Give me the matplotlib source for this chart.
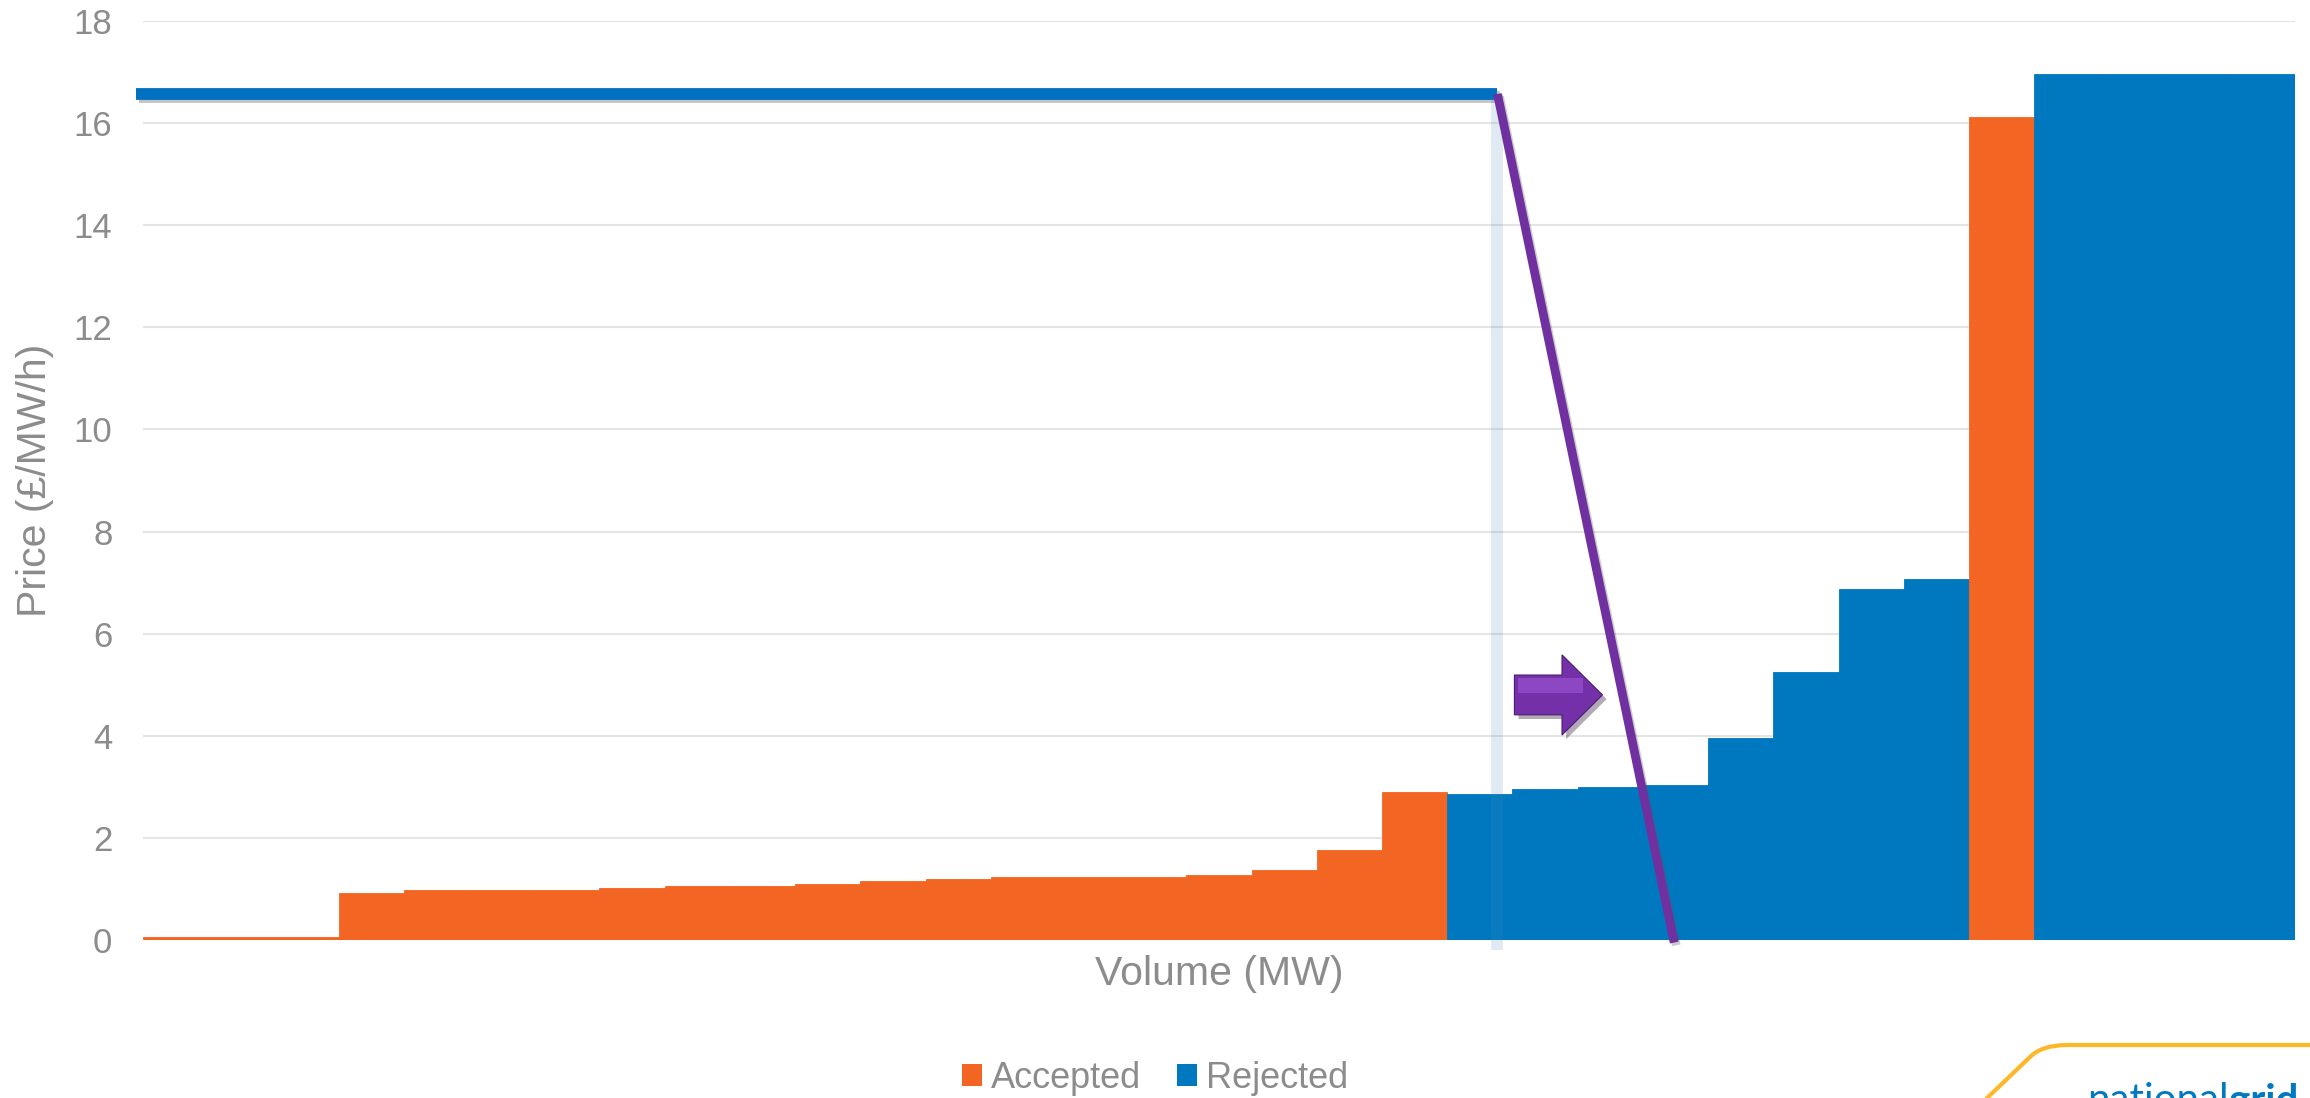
import numpy as np
import matplotlib
matplotlib.use('Agg')
import matplotlib.pyplot as plt
import matplotlib.patheffects as pe
from matplotlib.patches import Patch, FancyArrow, PathPatch
from matplotlib.path import Path

# bid stack: one equal-sized block per bid, price in £/MW/h
prices = [0.05, 0.05, 0.05, 0.93, 0.985, 0.985, 0.985, 1.02, 1.06, 1.06,
          1.09, 1.15, 1.19, 1.23, 1.23, 1.23, 1.27, 1.37, 1.76, 2.89,
          2.86, 2.96, 3.0, 3.04, 3.96, 5.24, 6.87, 7.08,
          16.11,
          16.96, 16.96, 16.96, 16.96]
accepted = [True] * 20 + [False] * 8 + [True] + [False] * 4

# demand curve: flat price, then falls to zero
demand_price = 16.57
demand_start = -0.1
demand_kink = 20.77
demand_zero = 23.48

orange = '#F26522'
blue = '#0078C0'
grey = '#8C8C8C'

plt.rcParams['font.family'] = ['Liberation Sans', 'DejaVu Sans']

W, H = 2310, 1098
fig = plt.figure(figsize=(W / 100, H / 100), dpi=100)
ax = fig.add_axes([143 / W, 1 - 940 / H, (2295 - 143) / W, (940 - 21) / H])

x = np.arange(len(prices))
cols = [orange if a else blue for a in accepted]
ax.bar(x, prices, width=1.0, align='edge', color=cols, edgecolor=cols,
       linewidth=0.6, zorder=2)

# cleared volume marker
ax.plot([demand_kink, demand_kink], [demand_price, -0.2], color='#4A88B8',
        alpha=0.17, lw=8.5, solid_capstyle='butt', zorder=3, clip_on=False)

# demand line
ax.plot([demand_start, demand_kink], [demand_price, demand_price], color='#0070C0',
        lw=8.5, solid_capstyle='butt', zorder=4, clip_on=False,
        path_effects=[pe.SimpleLineShadow(offset=(1.5, -2.5), shadow_color='#555555', alpha=0.35),
                      pe.Normal()])
ax.plot([demand_kink, demand_zero], [demand_price, -0.05], color='#7030A0',
        lw=6.3, solid_capstyle='butt', zorder=5, clip_on=False,
        path_effects=[pe.SimpleLineShadow(offset=(1.5, -2), shadow_color='#555555', alpha=0.3),
                      pe.Normal()])

# arrow showing the shift
arr = FancyArrow(21.03, 4.8, 1.35, 0, width=0.78, head_width=1.57, head_length=0.62,
                 length_includes_head=True, facecolor='#7330A8', edgecolor='#4A1B6E',
                 linewidth=0.8, zorder=6,
                 path_effects=[pe.SimplePatchShadow(offset=(3, -3), alpha=0.35), pe.Normal()])
ax.add_patch(arr)
ax.add_patch(FancyArrow(21.08, 4.98, 1.0, 0, width=0.3, head_width=0.0, head_length=0.0,
                        facecolor='#A35BD8', edgecolor='none', alpha=0.55, zorder=7))

ax.set_xlim(0, len(prices))
ax.set_ylim(0, 18)
ax.set_yticks(np.arange(0, 19, 2))
ax.set_xticks([])
ax.yaxis.grid(True, color='#E4E4E4', lw=1.5)
ax.set_axisbelow(True)
for s in ax.spines.values():
    s.set_visible(False)
ax.tick_params(axis='y', length=0, pad=22, labelsize=25, labelcolor=grey)

ax.set_ylabel('Price (£/MW/h)', fontsize=29.5, color=grey)
ax.yaxis.set_label_coords((35 - 143) / 2152, 0.5)
ax.yaxis.label.set_va('center')
ax.set_xlabel('Volume (MW)', fontsize=29.5, color=grey)
ax.xaxis.set_label_coords(0.5, -(974 - 940) / 919)
ax.xaxis.label.set_va('center')

handles = [Patch(facecolor=orange), Patch(facecolor=blue)]
fig.legend(handles, ['Accepted', 'Rejected'], loc='center',
           bbox_to_anchor=(0.5, 1 - 1078 / H), ncol=2, frameon=False,
           fontsize=26, handlelength=0.55, handleheight=0.55,
           handletextpad=0.25, columnspacing=1.0, labelcolor=grey,
           borderaxespad=0, borderpad=0)

# logo in the corner
verts = [(1985, 1100), (2030, 1057), (2042, 1045), (2067, 1045), (2310, 1045)]
verts = [(vx / W, 1 - vy / H) for vx, vy in verts]
codes = [Path.MOVETO, Path.LINETO, Path.CURVE3, Path.CURVE3, Path.LINETO]
fig.add_artist(PathPatch(Path(verts, codes), transform=fig.transFigure,
                         facecolor='none', edgecolor='#FDB827', lw=3))
base_y = 1 - 1112 / H
t1 = fig.text(2087 / W, base_y, 'national', fontsize=29, color='#0079C1',
              family=['Lato', 'DejaVu Sans'], va='baseline')
fig.canvas.draw()
bb = t1.get_window_extent()
fig.text(bb.x1 / W, base_y, 'grid', fontsize=29, color='#0079C1', fontweight='bold',
         family=['Lato', 'DejaVu Sans'], va='baseline')

fig.savefig('out.png', dpi=100)
